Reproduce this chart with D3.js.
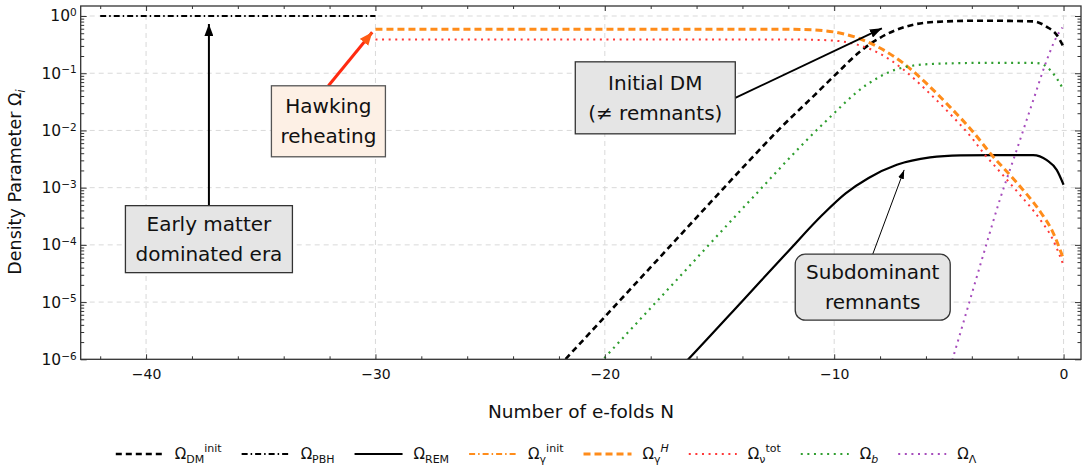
<!DOCTYPE html>
<html>
<head>
<meta charset="utf-8">
<script src="https://cdn.jsdelivr.net/npm/d3@7"></script>
<style>
  body { margin: 0; background: #fff; }
  svg text { font-family: "DejaVu Sans", Lato, sans-serif; fill: #111; }
  .grid line { stroke: #d9d9d9; stroke-width: 1; stroke-dasharray: 5,4; }
  .axis line { stroke: #333; stroke-width: 1; }
</style>
</head>
<body>
<div class="chart-container"></div>
<script>
// Data: every point is [N (e-folds), log10(Omega)]
const xTicks = [-40, -30, -20, -10, 0];
const yDecades = [-6, -5, -4, -3, -2, -1, 0];

const omegaDMinit = [[-22.6, -6.38], [-21.72, -6.0], [-18.0, -4.39], [-15.26, -3.2], [-13.8, -2.57],
  [-12.35, -1.96], [-10.9, -1.4], [-9.88, -1.0], [-8.87, -0.62], [-8.0, -0.38], [-6.83, -0.18],
  [-5.67, -0.105], [-3.64, -0.082], [-1.32, -0.093], [-0.73, -0.19], [-0.3, -0.33], [0, -0.54]];
const omegaPBH = [[-42, 0], [-30, 0]];
const omegaREM = [[-17.0, -6.27], [-16.36, -6.0], [-14.0, -4.98], [-12.0, -4.11], [-10.5, -3.47],
  [-9.5, -3.1], [-8.5, -2.83], [-7.27, -2.6], [-5.82, -2.47], [-4.5, -2.435], [-3.0, -2.43],
  [-1.33, -2.43], [-0.73, -2.52], [-0.3, -2.69], [0, -2.95]];
const omegaGammaInit = [];
const omegaGammaH = [[-30, -0.233], [-12, -0.233], [-11, -0.24], [-10, -0.28], [-9, -0.38], [-8, -0.56],
  [-7, -0.82], [-6, -1.17], [-5, -1.57], [-4, -2.0], [-3.13, -2.43], [-2, -2.93], [-1, -3.43],
  [-0.5, -3.75], [0, -4.25]];
const omegaNuTot = [[-30, -0.41], [-12, -0.41], [-11, -0.415], [-10, -0.43], [-9, -0.5], [-8, -0.66],
  [-7, -0.93], [-6, -1.29], [-5, -1.69], [-4, -2.13], [-3.42, -2.43], [-3, -2.62], [-2, -3.08],
  [-1, -3.57], [-0.5, -3.88], [0, -4.36]];
const omegaB = [[-20.8, -6.32], [-20.07, -6.0], [-17, -4.67], [-13.8, -3.28], [-10.47, -1.88],
  [-8.58, -1.2], [-7.27, -0.93], [-5.82, -0.84], [-3.64, -0.82], [-1.33, -0.82], [-1.02, -0.83],
  [-0.73, -0.89], [-0.3, -1.09], [0, -1.29]];
const omegaLambda = [[-5.1, -6.35], [-4.84, -6.0], [-4.07, -4.95], [-3.46, -4.12], [-2.77, -3.2],
  [-2.11, -2.42], [-1.32, -1.47], [-0.73, -0.77], [-0.3, -0.36], [-0.05, -0.2]];

// series: data + legend label (Ω, subscript, superscript) + look
const series = [
  {data: omegaDMinit,    sub: 'DM',  sup: 'init', color: '#000',    dash: '6,4',       width: 2.6},
  {data: omegaPBH,       sub: 'PBH', sup: null,   color: '#000',    dash: '6,3,1.5,3', width: 2},
  {data: omegaREM,       sub: 'REM', sup: null,   color: '#000',    dash: null,        width: 2.2},
  {data: omegaGammaInit, sub: 'γ',   sup: 'init', color: '#ff8c1a', dash: '6,3,1.5,3', width: 2},
  {data: omegaGammaH,    sub: 'γ',   sup: 'H',    color: '#ff8c1a', dash: '7,4',       width: 3, supItalic: true},
  {data: omegaNuTot,     sub: 'ν',   sup: 'tot',  color: '#ff3838', dash: '2,4.6',     width: 2},
  {data: omegaB,         sub: 'b',   sup: null,   color: '#2f9e2f', dash: '2,4.6',     width: 2.2, subItalic: true},
  {data: omegaLambda,    sub: 'Λ',   sup: null,   color: '#a64cbc', dash: '2,4.6',     width: 2}
];

// annotation boxes: centre and arrow tip in data coords
const notes = [
  {lines: ['Early matter', 'dominated era'], at: [-37.26, -3.9], tip: [-37.26, -0.14], from: 'top',
   w: 167, h: 67, fill: '#e5e5e5', stroke: '#333', rx: 0, arrow: 'black', lw: 2},
  {lines: ['Hawking', 'reheating'], at: [-32.05, -1.84], tip: [-30.14, -0.285], from: 'top',
   w: 114, h: 71, fill: '#fdf0e5', stroke: '#555', rx: 0, arrow: 'red', lw: 3},
  {lines: ['Initial DM', '(≠ remnants)'], at: [-17.8, -1.43], tip: [-7.92, -0.215], from: 'right',
   w: 160, h: 72, fill: '#e5e5e5', stroke: '#333', rx: 0, arrow: 'black', lw: 1.8},
  {lines: ['Subdominant', 'remnants'], at: [-8.32, -4.74], tip: [-6.95, -2.69], from: 'top',
   w: 155, h: 66, fill: '#e5e5e5', stroke: '#333', rx: 10, arrow: 'thin', lw: 1}
];

function setupCanvas() {
  const svg_width = 1084, svg_height = 466;
  const plot = {left: 80.7, right: 1081, top: 6, bottom: 359.3};

  const svg = d3.select('.chart-container').append('svg')
    .attr('width', svg_width).attr('height', svg_height);

  const xScale = d3.scaleLinear().domain([-42.85, 0.76]).range([plot.left, plot.right]);
  const yScale = d3.scaleLog().domain([1e-6, Math.pow(10, 0.175)]).range([plot.bottom, plot.top]);
  const px = d => xScale(d[0]);
  const py = d => yScale(Math.pow(10, d[1]));

  svg.append('clipPath').attr('id', 'plot-clip').append('rect')
    .attr('x', plot.left).attr('y', plot.top)
    .attr('width', plot.right - plot.left).attr('height', plot.bottom - plot.top);

  // grid
  const grid = svg.append('g').attr('class', 'grid');
  grid.selectAll('.vx').data(xTicks).enter().append('line')
    .attr('x1', d => xScale(d)).attr('x2', d => xScale(d))
    .attr('y1', plot.top).attr('y2', plot.bottom);
  grid.selectAll('.hy').data(yDecades.slice(1)).enter().append('line')
    .attr('x1', plot.left).attr('x2', plot.right)
    .attr('y1', d => yScale(Math.pow(10, d))).attr('y2', d => yScale(Math.pow(10, d)));

  // curves
  const line = d3.line().x(px).y(py).curve(d3.curveMonotoneX);
  const curves = svg.append('g').attr('clip-path', 'url(#plot-clip)');
  series.filter(s => s.data.length > 1).forEach(s => {
    curves.append('path').attr('d', line(s.data))
      .attr('fill', 'none').attr('stroke', s.color).attr('stroke-width', s.width)
      .attr('stroke-dasharray', s.dash);
  });

  // axes (ticks inward on all four sides)
  const xMinor = d3.range(-42, 1, 2).filter(v => v % 10 !== 0);
  const yMinor = [];
  yDecades.slice(0, -1).forEach(e => d3.range(2, 10).forEach(m => yMinor.push(m * Math.pow(10, e))));
  const yMajor = yDecades.map(e => Math.pow(10, e));

  function addAxis(axis, tx, ty) {
    const g = svg.append('g').attr('class', 'axis')
      .attr('transform', `translate(${tx},${ty})`).call(axis);
    g.select('.domain').remove();
    return g;
  }
  const xAxisDraw = addAxis(d3.axisBottom(xScale).tickValues(xTicks).tickSizeInner(-5).tickSizeOuter(0)
    .tickPadding(10).tickFormat(d3.format('d')), 0, plot.bottom);
  xAxisDraw.attr('font-size', 14).attr('font-family', null);
  addAxis(d3.axisBottom(xScale).tickValues(xMinor).tickSize(-3).tickFormat(''), 0, plot.bottom);
  addAxis(d3.axisTop(xScale).tickValues(xTicks).tickSize(-5).tickFormat(''), 0, plot.top);
  addAxis(d3.axisTop(xScale).tickValues(xMinor).tickSize(-3).tickFormat(''), 0, plot.top);

  const yAxisDraw = addAxis(d3.axisLeft(yScale).tickValues(yMajor).tickSizeInner(-6).tickSizeOuter(0)
    .tickPadding(4).tickFormat(''), plot.left, 0);
  yAxisDraw.attr('font-size', 15.5).attr('font-family', null);
  yAxisDraw.selectAll('.tick text').each(function(d) {
    const t = d3.select(this);
    t.append('tspan').text('10');
    t.append('tspan').attr('dy', '-0.5em').attr('font-size', 10.5)
      .text(d3.format('d')(Math.round(Math.log10(d))));
  });
  addAxis(d3.axisLeft(yScale).tickValues(yMinor).tickSize(-3.5).tickFormat(''), plot.left, 0);
  addAxis(d3.axisRight(yScale).tickValues(yMajor).tickSize(-6).tickFormat(''), plot.right, 0);
  addAxis(d3.axisRight(yScale).tickValues(yMinor).tickSize(-3.5).tickFormat(''), plot.right, 0);

  svg.append('rect').attr('x', plot.left).attr('y', plot.top)
    .attr('width', plot.right - plot.left).attr('height', plot.bottom - plot.top)
    .attr('fill', 'none').attr('stroke', '#333').attr('stroke-width', 1.3);

  // axis titles
  svg.append('text').attr('x', 581).attr('y', 418)
    .attr('text-anchor', 'middle').attr('font-size', 18.5).text('Number of e-folds N');
  const yl = svg.append('text').attr('transform', 'translate(21,182) rotate(-90)')
    .attr('text-anchor', 'middle').attr('font-size', 17.5);
  yl.append('tspan').text('Density Parameter Ω');
  yl.append('tspan').attr('dy', 4).attr('font-size', 12).attr('font-style', 'italic').text('i');

  // arrow heads
  const defs = svg.append('defs');
  function head(id, color, len, wid) {
    defs.append('marker').attr('id', id).attr('markerUnits', 'userSpaceOnUse')
      .attr('viewBox', `0 ${-wid / 2} ${len} ${wid}`).attr('refX', len).attr('refY', 0)
      .attr('markerWidth', len).attr('markerHeight', wid).attr('orient', 'auto')
      .append('path').attr('d', `M0,${-wid / 2}L${len},0L0,${wid / 2}Z`).attr('fill', color);
  }
  head('head-black', '#000', 12, 9);
  head('head-red', '#ff5a14', 13, 11);
  head('head-thin', '#000', 9, 6);

  // annotations
  const ann = svg.append('g');
  notes.forEach(n => {
    const cx = xScale(n.at[0]), cy = yScale(Math.pow(10, n.at[1]));
    const tx = xScale(n.tip[0]), ty = yScale(Math.pow(10, n.tip[1]));
    const sx = n.from === 'top' ? cx : cx + n.w / 2;
    const sy = n.from === 'top' ? cy - n.h / 2 : cy;
    const arrowColor = n.arrow === 'red' ? '#ff2a10' : '#000';
    ann.append('line').attr('x1', sx).attr('y1', sy).attr('x2', tx).attr('y2', ty)
      .attr('stroke', arrowColor).attr('stroke-width', n.lw)
      .attr('marker-end', `url(#head-${n.arrow})`);
    ann.append('rect').attr('x', cx - n.w / 2).attr('y', cy - n.h / 2)
      .attr('width', n.w).attr('height', n.h).attr('rx', n.rx)
      .attr('fill', n.fill).attr('stroke', n.stroke).attr('stroke-width', 1.3);
    n.lines.forEach((t, i) => {
      ann.append('text').attr('x', cx).attr('y', cy + (i - 0.5) * 30 + 7)
        .attr('text-anchor', 'middle').attr('font-size', 20).text(t);
    });
  });

  // legend
  const legend = svg.append('g').attr('font-size', 15);
  const items = series.map(s => {
    const g = legend.append('g');
    g.append('line').attr('x1', 0).attr('x2', 48).attr('y1', 0).attr('y2', 0)
      .attr('stroke', s.color).attr('stroke-width', s.width).attr('stroke-dasharray', s.dash);
    const t = g.append('text').attr('x', 59).attr('y', 5);
    t.append('tspan').text('Ω');
    t.append('tspan').attr('dy', 4).attr('font-size', 11)
      .attr('font-style', s.subItalic ? 'italic' : null).text(s.sub);
    if (s.sup) t.append('tspan').attr('dy', -11).attr('font-size', 11)
      .attr('font-style', s.supItalic ? 'italic' : null).text(s.sup);
    return {g: g, w: 59 + t.node().getComputedTextLength()};
  });
  const gap = 20;
  const total = d3.sum(items, d => d.w) + gap * (items.length - 1);
  let lx = 546 - total / 2;
  items.forEach(it => {
    it.g.attr('transform', `translate(${lx},454)`);
    lx += it.w + gap;
  });
}

setupCanvas();
</script>
</body>
</html>
